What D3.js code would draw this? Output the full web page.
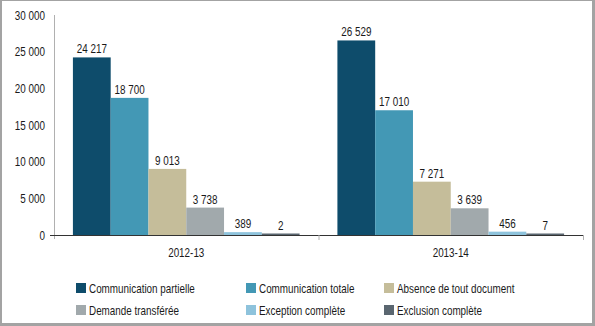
<!DOCTYPE html>
<html>
<head>
<meta charset="utf-8">
<script src="https://cdn.jsdelivr.net/npm/d3@7"></script>
<style>
  body { margin: 0; background: #fff; }
  svg text { font-family: "Liberation Sans", Arial, sans-serif; font-size: 13px; fill: #1a1a1a; }
</style>
</head>
<body>
<div id="chart"></div>
<script>
// years and request outcomes
var years = ['2012-13', '2013-14'];
var outcomes = ['Communication partielle', 'Communication totale', 'Absence de tout document',
                'Demande transférée', 'Exception complète', 'Exclusion complète'];
var values2012 = [24217, 18700, 9013, 3738, 389, 2];
var values2013 = [26529, 17010, 7271, 3639, 456, 7];
var yTicks = [0, 5000, 10000, 15000, 20000, 25000, 30000];
var colours = ['#0e4c6b', '#4398b5', '#c5bd9a', '#a1a9ac', '#8ec3dc', '#5a6670'];

var seriesByYear = [values2012, values2013];

var width = 595, height = 326;
var svg = d3.select('#chart').append('svg')
    .attr('width', width).attr('height', height);

// narrow the text horizontally (condensed look)
function squeeze(sel) {
    sel.each(function() {
        var t = d3.select(this);
        var tx = +t.attr('x') || 0, ty = +t.attr('y') || 0;
        t.attr('x', 0).attr('y', 0)
            .attr('transform', 'translate(' + tx + ',' + ty + ') scale(0.76,1)');
    });
}

// grey frame
svg.append('rect').attr('width', width).attr('height', height).attr('fill', '#a3a3a3');
svg.append('rect').attr('x', 2).attr('y', 1)
    .attr('width', 590).attr('height', 322).attr('fill', '#fff');

// scales
var x0 = d3.scaleBand().domain(years).range([54, 583])
    .paddingInner(0.143).paddingOuter(0.0715);
var x1 = d3.scaleBand().domain(outcomes).range([0, x0.bandwidth()]);
var y = d3.scaleLinear().domain([0, 30000]).range([235, 15]);

var fmt = function(v) { return d3.format(',')(v).replace(/,/g, ' '); };

// y axis: plain grey line with labels, no tick marks
var yAxis = svg.append('g').attr('transform', 'translate(54,0)')
    .call(d3.axisLeft(y).tickValues(yTicks).tickFormat(fmt).tickSize(0).tickPadding(9));
yAxis.select('.domain').attr('stroke', '#b0b0b0').attr('d', 'M0.5,15V239');
yAxis.selectAll('text').attr('font-size', null).attr('font-family', null).attr('fill', '#1a1a1a')
    .call(squeeze);

// x axis with ticks at the group boundaries
var xAxis = svg.append('g').attr('transform', 'translate(0,235)');
xAxis.append('line').attr('x1', 50).attr('x2', 583).attr('y1', 0.5).attr('y2', 0.5)
    .attr('stroke', '#333').attr('stroke-width', 1.2);
xAxis.selectAll('line.tick')
    .data(years)
    .enter().append('line').attr('class', 'tick')
    .attr('x1', function(d) { return x0(d) + x0.bandwidth() + x0.step() * x0.paddingInner() / 2 + 0.5; })
    .attr('x2', function(d) { return x0(d) + x0.bandwidth() + x0.step() * x0.paddingInner() / 2 + 0.5; })
    .attr('y1', 0).attr('y2', 5)
    .attr('stroke', '#b0b0b0');
xAxis.selectAll('text')
    .data(years)
    .enter().append('text')
    .attr('x', function(d) { return x0(d) + x0.bandwidth() / 2; })
    .attr('y', 22)
    .attr('text-anchor', 'middle')
    .text(function(d) { return d; })
    .call(squeeze);

// bars
var groups = svg.selectAll('g.year')
    .data(years)
    .enter().append('g').attr('class', 'year')
    .attr('transform', function(d) { return 'translate(' + x0(d) + ',0)'; });

var cells = groups.selectAll('g.bar')
    .data(function(d, i) {
        return outcomes.map(function(o, j) { return { key: o, value: seriesByYear[i][j], colour: colours[j] }; });
    })
    .enter().append('g').attr('class', 'bar');

cells.append('rect')
    .attr('x', function(d) { return x1(d.key); })
    .attr('y', function(d) { return Math.min(y(d.value), 233.5); })
    .attr('width', x1.bandwidth())
    .attr('height', function(d) { return Math.max(235 - y(d.value), 1.5); })
    .attr('fill', function(d) { return d.colour; });

cells.append('text')
    .attr('x', function(d) { return x1(d.key) + x1.bandwidth() / 2; })
    .attr('y', function(d) { return Math.min(y(d.value), 233.5) - 4; })
    .attr('text-anchor', 'middle')
    .text(function(d) { return fmt(d.value); })
    .call(squeeze);

// legend, three columns by two rows
var colX = [76, 246, 384];
var rowY = [288, 310];
var legend = svg.selectAll('g.legend')
    .data(outcomes)
    .enter().append('g').attr('class', 'legend')
    .attr('transform', function(d, i) { return 'translate(' + colX[i % 3] + ',' + rowY[Math.floor(i / 3)] + ')'; });
legend.append('rect')
    .attr('x', 0).attr('y', -5).attr('width', 10).attr('height', 10)
    .attr('fill', function(d, i) { return colours[i]; });
legend.append('text')
    .attr('x', 13).attr('y', 4.5)
    .text(function(d) { return d; })
    .call(squeeze);
</script>
</body>
</html>
